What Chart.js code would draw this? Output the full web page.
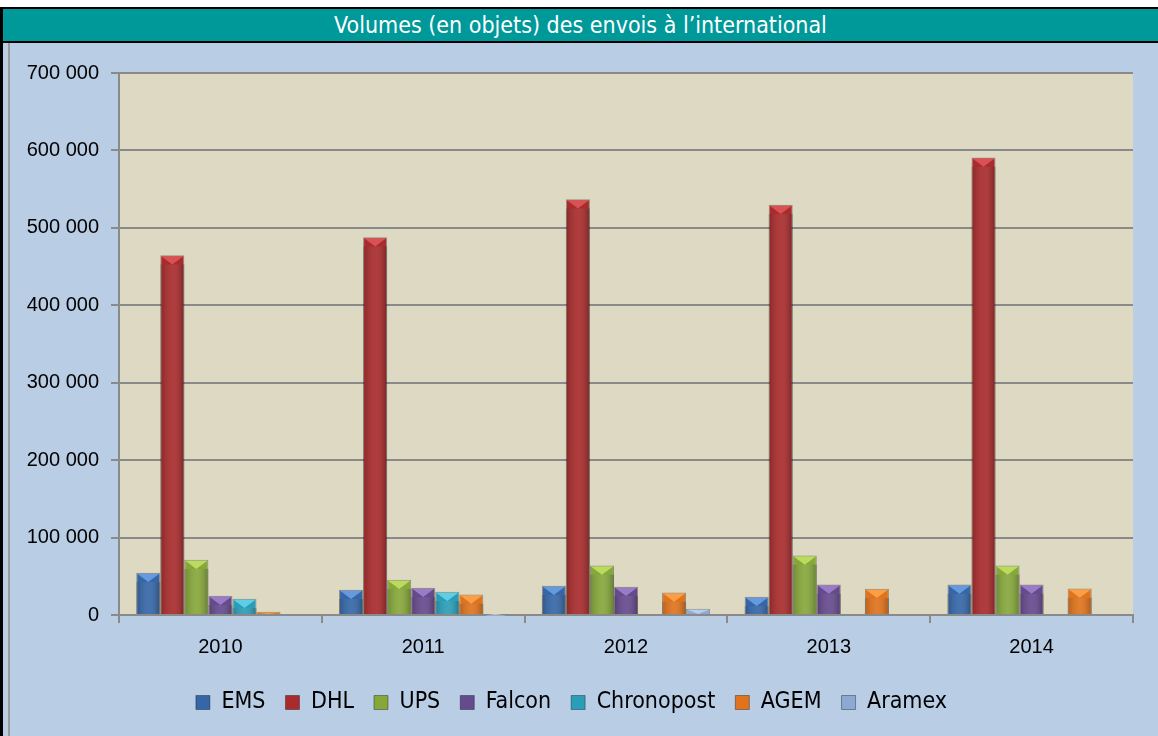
<!DOCTYPE html>
<html>
<head>
<meta charset="utf-8">
<script src="https://cdn.jsdelivr.net/npm/chart.js@4.4.1/dist/chart.umd.min.js"></script>
<style>
  body { margin: 0; background: #fff; width: 1158px; height: 736px; overflow: hidden; }
  #frame { position: absolute; left: 0; top: 7px; width: 1158px; height: 729px; border-left: 3px solid #000; border-top: 2px solid #000; box-sizing: border-box; background: #B9CDE5; }
  #title { height: 32px; background: #00999A; color: #fff; border-bottom: 2px solid #000; text-align: center;
    font-family: "Liberation Sans Narrow", "Arial Narrow", "DejaVu Sans Condensed", sans-serif; font-size: 23px; line-height: 33px; }
  #area { position: absolute; left: 5px; top: 34px; right: 0; bottom: 0; border-left: 2px solid #9a9a9a; }
  canvas { display: block; }
</style>
</head>
<body>
<div id="frame">
  <div id="title">Volumes (en objets) des envois à l’international</div>
  <div id="area"><canvas id="myChart" width="1149" height="693"></canvas></div>
</div>
<script>
const years = ["2010", "2011", "2012", "2013", "2014"];
const ems = [54500, 32600, 37700, 23500, 39400];
const dhl = [464700, 488000, 537000, 530000, 591000];
const ups = [71400, 45500, 64000, 77000, 64000];
const falcon = [24800, 35200, 36500, 39400, 39400];
const chronopost = [20900, 30000, null, null, null];
const agem = [4100, 26500, 29100, 33900, 34200];
const aramex = [null, 800, 8000, null, null];
const yTicks = [0, 100000, 200000, 300000, 400000, 500000, 600000, 700000];

var barColors = ["#3567A8", "#A92B2C", "#86A83A", "#664A8E", "#2A9EB8", "#E0731C", "#8EA8D4"];
var topColors = ["#6FA3E6", "#E0595A", "#C4E466", "#A384CF", "#68D6EC", "#FFA650", "#C2D4F0"];
var names = ["EMS", "DHL", "UPS", "Falcon", "Chronopost", "AGEM", "Aramex"];
var series = [ems, dhl, ups, falcon, chronopost, agem, aramex];

function fmt(v) {
  return v.toString().replace(/\B(?=(\d{3})+(?!\d))/g, " ");
}

// lighter bevel cap on top of every bar
const bevel = {
  id: "bevel",
  afterDatasetsDraw(chart) {
    const ctx = chart.ctx;
    chart.data.datasets.forEach((ds, i) => {
      chart.getDatasetMeta(i).data.forEach((bar, j) => {
        if (ds.data[j] == null) return;
        const w = bar.width, h = bar.base - bar.y;
        const cap = Math.min(w / 2.6, h);
        const l = bar.x - w / 2, r = bar.x + w / 2;
        ctx.save();
        ctx.fillStyle = topColors[i];
        ctx.globalAlpha = 0.85;
        ctx.beginPath();
        ctx.moveTo(l + 1, bar.y + 1);
        ctx.lineTo(r - 1, bar.y + 1);
        ctx.lineTo(bar.x, bar.y + cap);
        ctx.closePath();
        ctx.fill();
        const g = ctx.createLinearGradient(l, 0, r, 0);
        g.addColorStop(0, "rgba(0,0,0,0.18)");
        g.addColorStop(0.5, "rgba(255,255,255,0.08)");
        g.addColorStop(1, "rgba(0,0,0,0.25)");
        ctx.globalAlpha = 1;
        ctx.fillStyle = g;
        ctx.fillRect(l, bar.y + cap, w, h - cap);
        ctx.restore();
      });
    });
  }
};

const plotBg = {
  id: "plotBg",
  beforeDraw(chart) {
    const a = chart.chartArea;
    chart.ctx.save();
    chart.ctx.fillStyle = "#DDD9C3";
    chart.ctx.fillRect(a.left, a.top, a.right - a.left, a.bottom - a.top);
    chart.ctx.restore();
  }
};

new Chart("myChart", {
  type: "bar",
  data: {
    labels: years,
    datasets: series.map((d, i) => ({
      label: names[i],
      data: d,
      backgroundColor: barColors[i],
      borderColor: "rgba(0,0,0,0.35)",
      borderWidth: 1,
      categoryPercentage: 0.83,
      barPercentage: 1
    }))
  },
  options: {
    responsive: false,
    animation: false,
    layout: { padding: { top: 30, right: 26, left: 0, bottom: 12 } },
    plugins: {
      title: { display: false },
      tooltip: { enabled: false },
      legend: {
        position: "bottom",
        labels: {
          boxWidth: 14, boxHeight: 14, padding: 20, color: "#000",
          font: { family: "'Liberation Sans Narrow', 'Arial Narrow', 'DejaVu Sans Condensed', sans-serif", size: 23 }
        }
      }
    },
    scales: {
      x: {
        grid: { offset: true, drawOnChartArea: false, color: "#8a8a8a", tickLength: 8, lineWidth: 2 },
        border: { color: "#8a8a8a", width: 2 },
        ticks: { color: "#000", padding: 12, font: { family: "'Liberation Sans', Arial, sans-serif", size: 20 } }
      },
      y: {
        min: 0, max: 700000,
        afterBuildTicks(scale) { scale.ticks = yTicks.map(v => ({ value: v })); },
        afterFit(scale) { scale.width = 109; },
        grid: { color: "#8a8a8a", lineWidth: 2, tickLength: 8 },
        border: { color: "#8a8a8a", width: 2 },
        ticks: {
          color: "#000", padding: 12,
          font: { family: "'Liberation Sans', Arial, sans-serif", size: 20 },
          callback: v => fmt(v)
        }
      }
    }
  },
  plugins: [plotBg, bevel]
});
</script>
</body>
</html>
